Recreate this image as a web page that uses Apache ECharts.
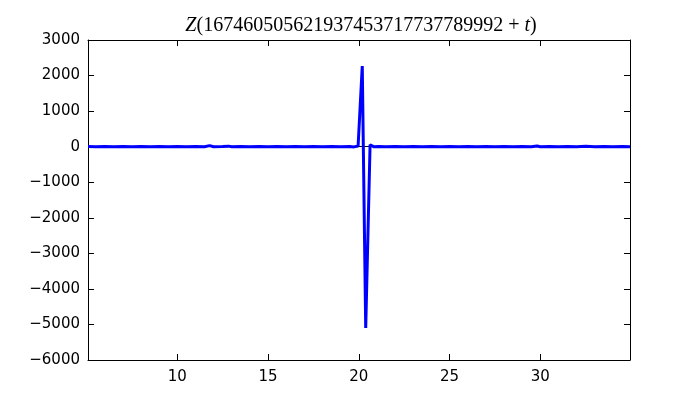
<!DOCTYPE html>
<html lang="en">
<head>
	<meta charset="UTF-8">
	<title>Z(t) plot</title>
	<script type="text/javascript" src="https://cdn.jsdelivr.net/npm/echarts@6/dist/echarts.min.js"></script>
</head>
<body style="margin:0">
	<div id="main" style="width: 700px;height: 400px;"></div>
	<script type="text/javascript">
		// t values (offset from the big number) and Z values
		var tVals = [5.08, 5.5, 6.0, 6.5, 7.0, 7.5, 8.0, 8.5, 9.0, 9.5,
			10.0, 10.5, 11.0, 11.5, 11.78, 12.0, 12.5, 12.82, 13.0, 13.5,
			14.0, 14.5, 15.0, 15.5, 16.0, 16.5, 17.0, 17.5, 18.0, 18.5,
			19.0, 19.5, 19.74, 19.96, 20.19, 20.38, 20.62, 20.84, 21.1, 21.5,
			22.0, 22.5, 23.0, 23.5, 24.0, 24.5, 25.0, 25.5, 26.0, 26.5,
			27.0, 27.5, 28.0, 28.5, 29.0, 29.5, 29.82, 30.0, 30.5, 31.0,
			31.5, 32.0, 32.5, 33.0, 33.5, 34.0, 34.5, 34.94];
		var zVals = [2, -3, 3, -4, 2, -2, 4, -3, 2, -4,
			3, -2, 3, -3, 30, -3, 4, 15, -3, 2,
			-4, 3, -2, 3, -3, 2, -4, 3, -2, 4,
			-3, 2, -6, 20, 2270, -5100, 55, -5, 3, -2,
			4, -3, 2, -3, 3, -4, 2, -2, 3, -3,
			3, -2, 4, -3, 2, -3, 20, -3, 4, -2,
			3, -3, 15, -3, 2, -4, 3, -1];
		var xTicks = [10, 15, 20, 25, 30];
		var xMin = 5.08, xMax = 34.94;

		var points = tVals.map(function (t, i) { return [t, zVals[i]]; });

		var tickStyle = { show: true, inside: true, length: 6, lineStyle: { color: '#000', width: 1 } };
		var lineStyle = { show: true, onZero: false, lineStyle: { color: '#000', width: 1 } };
		var labelFont = { fontFamily: 'DejaVu Sans', fontSize: 15, color: '#000' };

		var myChart = echarts.init(document.getElementById('main'));
		var option = {
			animation: false,
			backgroundColor: '#fff',
			title: {
				text: '{i|Z}(167460505621937453717737789992 + {i|t})',
				left: 356,
				textAlign: 'center',
				top: 11,
				textStyle: {
					fontFamily: 'Liberation Serif',
					fontSize: 20,
					fontWeight: 'normal',
					color: '#000',
					rich: {
						i: { fontFamily: 'Liberation Serif', fontStyle: 'italic', fontSize: 20, color: '#000' }
					}
				}
			},
			grid: { left: 88, right: 70, top: 40, bottom: 40 },
			xAxis: [{
				type: 'value', min: xMin, max: xMax,
				axisLine: lineStyle,
				axisTick: Object.assign({ customValues: xTicks }, tickStyle),
				axisLabel: Object.assign({ customValues: xTicks, margin: 10 }, labelFont),
				splitLine: { show: false }
			}, {
				type: 'value', min: xMin, max: xMax, position: 'top',
				axisLine: lineStyle,
				axisTick: Object.assign({ customValues: xTicks }, tickStyle),
				axisLabel: { show: false },
				splitLine: { show: false }
			}],
			yAxis: [{
				type: 'value', min: -6000, max: 3000, interval: 1000,
				axisLine: lineStyle,
				axisTick: tickStyle,
				axisLabel: Object.assign({
					margin: 8,
					formatter: function (v) { return v < 0 ? '\u2212' + Math.abs(v) : String(v); }
				}, labelFont),
				splitLine: { show: false }
			}, {
				type: 'value', min: -6000, max: 3000, interval: 1000, position: 'right',
				axisLine: lineStyle,
				axisTick: tickStyle,
				axisLabel: { show: false },
				splitLine: { show: false }
			}],
			series: [{
				type: 'line',
				data: [],
				z: 1,
				markLine: {
					silent: true,
					z: 1,
					symbol: 'none',
					label: { show: false },
					lineStyle: { color: '#000', width: 1, type: 'solid' },
					data: [{ yAxis: 0 }]
				}
			}, {
				type: 'line',
				data: points,
				z: 10,
				showSymbol: false,
				lineStyle: { color: '#0000ff', width: 3 },
				itemStyle: { color: '#0000ff' }
			}]
		};
		myChart.setOption(option);
	</script>
</body>
</html>
